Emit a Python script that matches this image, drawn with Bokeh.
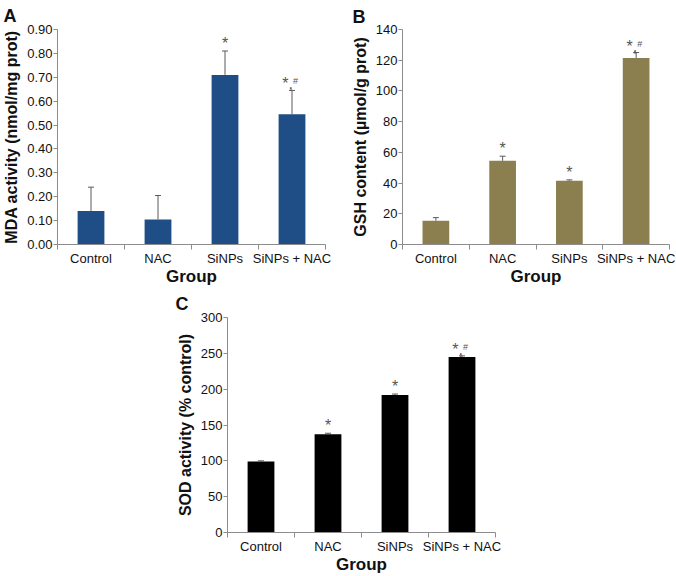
from bokeh.plotting import figure
from bokeh.models import FixedTicker, Range1d, Title, ColumnDataSource, Spacer, NumeralTickFormatter
from bokeh.layouts import column, row
from bokeh.embed import file_html
from bokeh.resources import INLINE
from bokeh.core.properties import value

groups = ["Control", "NAC", "SiNPs", "SiNPs + NAC"]

mda = [0.14, 0.105, 0.71, 0.545]
mda_err = [0.10, 0.10, 0.10, 0.10]
mda_marks = ["", "", "*", "*,#"]
mda_ticks = [0.0, 0.1, 0.2, 0.3, 0.4, 0.5, 0.6, 0.7, 0.8, 0.9]

gsh = [15.5, 54.5, 41.5, 121.5]
gsh_err = [2.0, 3.0, 0.6, 3.5]
gsh_marks = ["", "*", "*", "*,#"]
gsh_ticks = [0, 20, 40, 60, 80, 100, 120, 140]

sod = [99, 137, 192, 245]
sod_err = [1.0, 1.5, 1.2, 1.5]
sod_marks = ["", "*", "*", "*,#"]
sod_ticks = [0, 50, 100, 150, 200, 250, 300]

FONT = "Liberation Sans"
AXIS = "#8c8c8c"
ERR = "#5a5a5a"
TXT = "#111111"
MARK = "#555555"


def panel(letter, vals, errs, marks, ticks, fmt, color, ylabel,
          width, height, bl, br, bt, bb, letter_off, letter_standoff):
    n = len(groups)
    p = figure(width=width, height=height,
               x_range=Range1d(0, n), y_range=Range1d(ticks[0], ticks[-1]),
               output_backend="svg", toolbar_location=None,
               min_border_left=bl, min_border_top=bt,
               min_border_right=br, min_border_bottom=bb)
    p.outline_line_color = None
    p.xgrid.grid_line_color = None
    p.ygrid.grid_line_color = None
    p.background_fill_color = "white"

    xs = [i + 0.5 for i in range(n)]
    tops = [v + e for v, e in zip(vals, errs)]
    src = ColumnDataSource(dict(x=xs, top=vals, etop=tops,
                                x0=[x - 0.045 for x in xs], x1=[x + 0.045 for x in xs]))
    p.vbar(x="x", top="top", bottom=ticks[0], width=0.4, source=src,
           fill_color=color, line_color=None)
    p.segment(x0="x", y0="top", x1="x", y1="etop", source=src, line_color=ERR, line_width=1)
    p.segment(x0="x0", y0="etop", x1="x1", y1="etop", source=src, line_color=ERR, line_width=1)

    single = [m if "#" not in m else "" for m in marks]
    starc = [m.replace("#", "") if "#" in m else "" for m in marks]
    hashes = ["#" if "#" in m else "" for m in marks]
    msrc = ColumnDataSource(dict(x=xs, y=tops, s=single, c=starc, h=hashes))
    p.text(x="x", y="y", text="s", source=msrc, text_align="center", text_baseline="bottom",
           y_offset=1, text_font=value(FONT), text_font_size="16px", text_color=MARK)
    p.text(x="x", y="y", text="c", source=msrc, text_align="right", text_baseline="bottom",
           y_offset=2, x_offset=1, text_font=value(FONT), text_font_size="16px", text_color=MARK)
    p.text(x="x", y="y", text="h", source=msrc, text_align="left", text_baseline="bottom",
           y_offset=-4, x_offset=1, text_font=value(FONT), text_font_size="9px", text_color=MARK)

    # x axis: labels at centers, ticks between categories
    xa = p.xaxis[0]
    xa.ticker = FixedTicker(ticks=xs, minor_ticks=list(range(n + 1)))
    xa.major_label_overrides = {x: g for x, g in zip(xs, groups)}
    xa.major_tick_line_color = None
    xa.major_tick_out = 0
    xa.major_tick_in = 0
    xa.minor_tick_line_color = AXIS
    xa.minor_tick_out = 5
    xa.minor_tick_in = 0
    xa.axis_line_color = AXIS
    xa.major_label_standoff = 1
    xa.major_label_text_font = FONT
    xa.major_label_text_font_size = "13px"
    xa.major_label_text_color = TXT
    xa.axis_label = "Group"
    xa.axis_label_text_font = FONT
    xa.axis_label_text_font_style = "bold"
    xa.axis_label_text_font_size = "17px"
    xa.axis_label_text_color = TXT
    xa.axis_label_standoff = -2

    ya = p.yaxis[0]
    ya.ticker = FixedTicker(ticks=ticks, minor_ticks=[])
    ya.formatter = NumeralTickFormatter(format=fmt)
    ya.major_tick_line_color = AXIS
    ya.major_tick_out = 4
    ya.major_tick_in = 0
    ya.minor_tick_line_color = None
    ya.axis_line_color = AXIS
    ya.major_label_standoff = 1
    ya.major_label_text_font = FONT
    ya.major_label_text_font_size = "13px"
    ya.major_label_text_color = TXT
    ya.axis_label = ylabel
    ya.axis_label_text_font = FONT
    ya.axis_label_text_font_style = "bold"
    ya.axis_label_text_font_size = "16px"
    ya.axis_label_text_color = TXT
    ya.axis_label_standoff = 4

    p.title = Title(text=letter, align="left", offset=letter_off, text_font=FONT,
                    text_font_style="bold", text_font_size="18px", text_color=TXT,
                    standoff=letter_standoff)
    return p


pA = panel("A", mda, mda_err, mda_marks, mda_ticks, "0.00", "#1f4e87",
           "MDA activity (nmol/mg prot)", 338, 288, 54, 13, 29, 40, -54, 7)
pB = panel("B", gsh, gsh_err, gsh_marks, gsh_ticks, "0", "#8c7f4f",
           "GSH content (\u00b5mol/g prot)", 338, 288, 64, 7, 28, 40, -50, 6)
pC = panel("C", sod, sod_err, sod_marks, sod_ticks, "0", "#000000",
           "SOD activity (% control)", 360, 288, 62, 30, 29, 40, -52, 7)

layout = column(row(pA, pB), row(Spacer(width=165, height=288), pC))

open("out.html", "w").write(file_html(layout, INLINE))
